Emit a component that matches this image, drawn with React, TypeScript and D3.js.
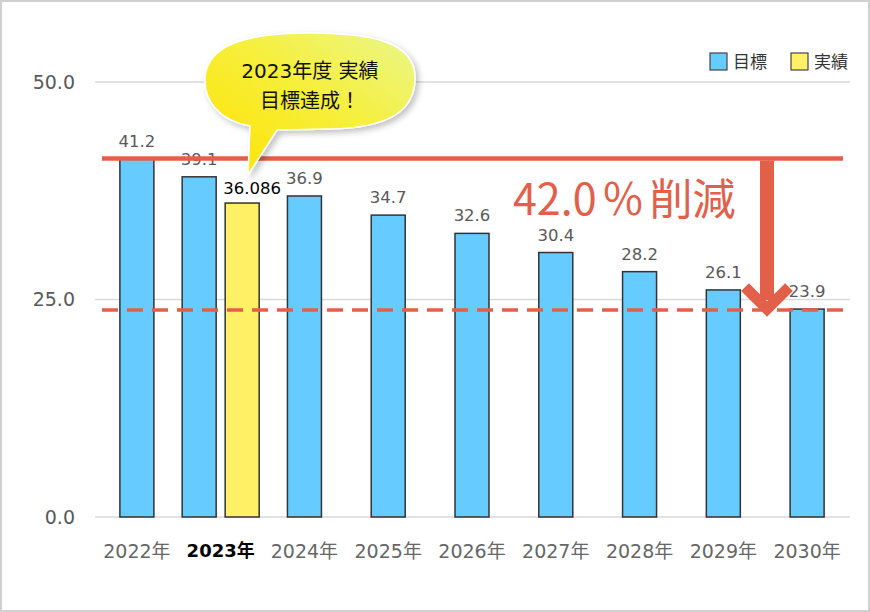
import React from "react";
import * as d3 from "d3";

const categories = ["2022年", "2023年", "2024年", "2025年", "2026年", "2027年", "2028年", "2029年", "2030年"];
const targetValues = [41.2, 39.1, 36.9, 34.7, 32.6, 30.4, 28.2, 26.1, 23.9];
const actualCategory = "2023年";
const actualValue = 36.086;
const yTicks = [0, 25, 50];
const legendLabels = ["目標", "実績"];
const calloutLines = ["2023年度 実績", "目標達成！"];
const reductionNumber = "42.0";
const reductionPercent = "％";
const reductionWord = "削減";
const baseValue = 41.2;
const goalValue = 23.9;

const W = 870;
const H = 612;
const BLUE = "#66ccff";
const YELLOW = "#fff066";
const RED = "#e2604a";
const FONT = "'DejaVu Sans', 'Noto Sans CJK JP', sans-serif";
const CJK = "'Noto Sans CJK JP', sans-serif";

export default function App() {
  const x = d3.scaleBand<string>().domain(categories).range([95, 849]).paddingInner(0).paddingOuter(0);
  const y = d3.scaleLinear().domain([0, 50]).range([517, 82]);
  const barW = 34;
  const step = x.step();

  const bars = categories.map((c, i) => {
    const center = (x(c) as number) + step / 2;
    const isActual = c === actualCategory;
    const bx = isActual ? center - 4.5 - barW : center - barW / 2;
    return { c, v: targetValues[i], bx, center, isActual };
  });
  const actCenter = (x(actualCategory) as number) + step / 2;
  const actX = actCenter + 4.5;

  const yBase = y(baseValue);
  const yGoal = y(goalValue) + 1;
  const arrowX = 767;

  return (
    <svg width={W} height={H} style={{ position: "absolute", left: 0, top: 0 }} fontFamily={FONT}>
      <defs>
        <linearGradient id="bub" x1="0" y1="1" x2="1" y2="0">
          <stop offset="0" stopColor="#ffe200" />
          <stop offset="0.55" stopColor="#f6ef3c" />
          <stop offset="1" stopColor="#eaf78c" />
        </linearGradient>
        <filter id="shadow" x="-20%" y="-20%" width="140%" height="150%">
          <feDropShadow dx="3" dy="3" stdDeviation="3" floodColor="#000" floodOpacity="0.25" />
        </filter>
      </defs>
      <rect x={1} y={1} width={W - 2} height={H - 2} fill="#fff" stroke="#d0d0d0" strokeWidth={2} />

      {yTicks.map((t) => (
        <g key={t}>
          <line x1={95} x2={850} y1={y(t)} y2={y(t)} stroke="#d9d9d9" strokeWidth={1.5} />
          <text x={75} y={y(t)} dy="0.36em" textAnchor="end" fontSize={19} fill="#595959">
            {t.toFixed(1)}
          </text>
        </g>
      ))}

      {bars.map((b) => (
        <g key={b.c}>
          <rect x={b.bx} y={y(b.v)} width={barW} height={y(0) - y(b.v)} fill={BLUE} stroke="#333" strokeWidth={1.5} />
          <text x={b.bx + barW / 2} y={y(b.v) - 12} textAnchor="middle" fontSize={16.5} fill="#595959">
            {b.v.toFixed(1)}
          </text>
          <text
            x={b.center}
            y={551}
            dy="0.36em"
            textAnchor="middle"
            fontSize={b.isActual ? 18 : 19}
            fontWeight={b.isActual ? "bold" : "normal"}
            fill={b.isActual ? "#000" : "#666"}
          >
            {b.c}
          </text>
        </g>
      ))}
      <rect x={actX} y={y(actualValue)} width={barW} height={y(0) - y(actualValue)} fill={YELLOW} stroke="#333" strokeWidth={1.5} />
      <text x={actX + barW / 2 + 10} y={y(actualValue) - 9} textAnchor="middle" fontSize={16.5} fill="#000">
        {actualValue.toFixed(3)}
      </text>

      {/* reference lines */}
      <line x1={102} x2={843} y1={yBase} y2={yBase} stroke={RED} strokeWidth={4.5} />
      <line x1={102} x2={843} y1={yGoal} y2={yGoal} stroke={RED} strokeWidth={3.5} strokeDasharray="16 9" />

      {/* arrow */}
      <rect x={arrowX - 7} y={yBase + 2} width={14} height={yGoal - yBase - 12} fill={RED} />
      <path
        d={`M${arrowX - 22},${yGoal - 23} L${arrowX},${yGoal - 1} L${arrowX + 22},${yGoal - 23}`}
        fill="none"
        stroke={RED}
        strokeWidth={11}
        strokeLinejoin="miter"
      />
      <text x={513} y={215} fontSize={43} fill={RED} fontFamily={CJK}>
        {reductionNumber}
        <tspan dx={5}>{reductionPercent}</tspan>
        <tspan dx={5}>{reductionWord}</tspan>
      </text>

      {/* callout bubble */}
      <path
        d="M250,126 C218,120 204,100 205,78 C207,48 238,33 310,33 C382,33 415,46 415,78 C415,110 390,128 330,129 L277,130 L248,175 Z"
        fill="url(#bub)"
        stroke="#fff"
        strokeWidth={1.5}
        filter="url(#shadow)"
      />
      {calloutLines.map((l, i) => (
        <text key={l} x={310} y={71 + i * 30} dy="0.36em" textAnchor="middle" fontSize={20} fill="#111">
          {l}
        </text>
      ))}

      {/* legend */}
      {legendLabels.map((l, i) => (
        <g key={l} transform={`translate(${710 + i * 81},53)`}>
          <rect x={0} y={0} width={17} height={17} fill={i === 0 ? BLUE : YELLOW} stroke="#444" strokeWidth={1.2} />
          <text x={23} y={8.5} dy="0.36em" fontSize={17} fill="#333">
            {l}
          </text>
        </g>
      ))}
    </svg>
  );
}
